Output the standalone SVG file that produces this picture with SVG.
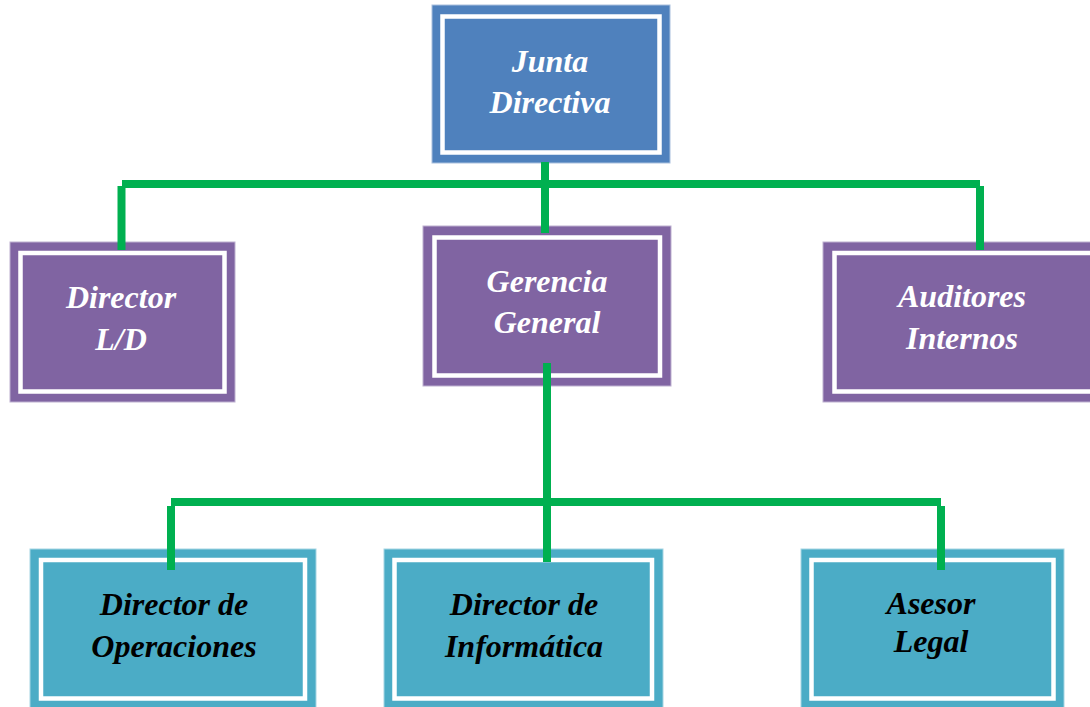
<svg xmlns="http://www.w3.org/2000/svg" width="1090" height="707" viewBox="0 0 1090 707">
<style>
.blue{fill:#4F81BD;stroke:#A9C0DE;stroke-width:1}
.purple{fill:#8064A2;stroke:#BDB0D0;stroke-width:1}
.teal{fill:#4BACC6;stroke:#A5D5E3;stroke-width:1}
.inner{fill:none;stroke:#FFFFFF;stroke-width:4.5}
.lbl{font-family:"Liberation Serif","Times New Roman",serif;font-size:32px;font-weight:bold;font-style:italic;text-anchor:middle}
.w{fill:#FFFFFF}
.k{fill:#000000}
.conn{stroke:#00B050;stroke-width:8;fill:none;stroke-linecap:butt}
</style>
<rect width="1090" height="707" fill="#FFFFFF"/>
<g id="node-junta">
<rect class="blue" x="432" y="5" width="238" height="158"/>
<rect class="inner" x="442.5" y="16.5" width="217" height="136"/>
<text class="lbl w" x="550" y="72">Junta</text>
<text class="lbl w" x="550" y="113">Directiva</text>
</g>
<g id="node-director-ld">
<rect class="purple" x="10" y="242" width="225" height="160"/>
<rect class="inner" x="20.5" y="253" width="204" height="138.5"/>
<text class="lbl w" x="121" y="308">Director</text>
<text class="lbl w" x="121" y="350">L/D</text>
</g>
<g id="node-gerencia">
<rect class="purple" x="423" y="226" width="248" height="160"/>
<rect class="inner" x="434.5" y="237.5" width="225.5" height="138"/>
<text class="lbl w" x="547" y="292">Gerencia</text>
<text class="lbl w" x="547" y="333">General</text>
</g>
<g id="node-auditores">
<rect class="purple" x="823" y="242" width="280" height="160"/>
<rect class="inner" x="834.5" y="253" width="260" height="138.5"/>
<text class="lbl w" x="962" y="307">Auditores</text>
<text class="lbl w" x="962" y="349">Internos</text>
</g>
<g id="node-operaciones">
<rect class="teal" x="30" y="549" width="286" height="165"/>
<rect class="inner" x="41" y="560" width="264" height="138.5"/>
<text class="lbl k" x="174" y="615">Director de</text>
<text class="lbl k" x="174" y="657">Operaciones</text>
</g>
<g id="node-informatica">
<rect class="teal" x="384" y="549" width="279" height="165"/>
<rect class="inner" x="394.5" y="560" width="257.5" height="138.5"/>
<text class="lbl k" x="524" y="615">Director de</text>
<text class="lbl k" x="524" y="657">Informática</text>
</g>
<g id="node-asesor">
<rect class="teal" x="801" y="549" width="263" height="165"/>
<rect class="inner" x="811.5" y="560" width="242" height="138.5"/>
<text class="lbl k" x="931" y="614">Asesor</text>
<text class="lbl k" x="931" y="652">Legal</text>
</g>
<g id="connectors">
<line class="conn" x1="122" y1="184" x2="980" y2="184"/>
<line class="conn" x1="121.5" y1="186" x2="121.5" y2="250"/>
<line class="conn" x1="980" y1="186" x2="980" y2="250"/>
<line class="conn" x1="545" y1="162" x2="545" y2="233"/>
<line class="conn" x1="547" y1="363" x2="547" y2="562"/>
<line class="conn" x1="171" y1="502" x2="941" y2="502"/>
<line class="conn" x1="171" y1="506" x2="171" y2="570"/>
<line class="conn" x1="941" y1="506" x2="941" y2="570"/>
</g>
</svg>
